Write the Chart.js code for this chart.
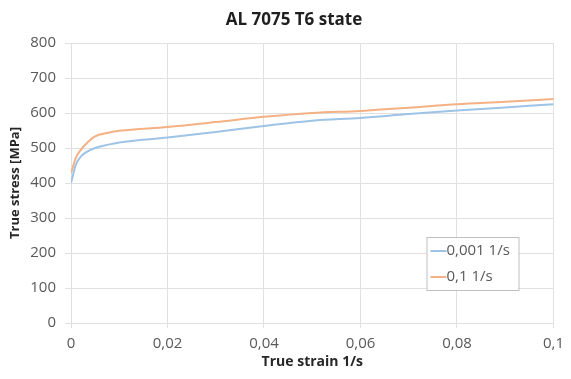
<!DOCTYPE html>
<html>
<head>
<meta charset="utf-8">
<script src="https://cdn.jsdelivr.net/npm/chart.js@4/dist/chart.umd.min.js"></script>
<style>
html,body{margin:0;padding:0;background:#fff;}
#wrap{width:571px;height:379px;position:relative;}
</style>
</head>
<body>
<div id="wrap"><canvas id="c" width="571" height="379"></canvas></div>
<script>
const chartTitle = 'AL 7075 T6 state';
const xAxisTitle = 'True strain 1/s';
const yAxisTitle = 'True stress [MPa]';
const seriesNames = ['0,001 1/s', '0,1 1/s'];
const strain = [0, 0.001, 0.002, 0.003, 0.005, 0.0075, 0.01, 0.02, 0.03, 0.04, 0.05, 0.06, 0.07, 0.08, 0.09, 0.1];
const stressSlow = [400, 452, 475, 487, 500, 509, 516, 530, 546, 563, 578, 586, 597, 607, 616, 625];
const stressFast = [428, 472, 494, 510, 533, 543, 549, 560, 574, 589, 600, 606, 615, 625, 632, 640];
const xTickLabels = ['0', '0,02', '0,04', '0,06', '0,08', '0,1'];
const yTickLabels = ['0', '100', '200', '300', '400', '500', '600', '700', '800'];
const seriesColors = ['#9dc3e6', '#f4b183'];

const toPts = (ys) => strain.map((x, i) => ({x: x, y: ys[i]}));

const tickColor = '#595959';
const gridColor = '#e0e0e0';

const titlePlugin = {
  id: 'customTitle',
  afterDraw(chart) {
    const ctx = chart.ctx;
    ctx.save();
    ctx.font = 'bold 17px "Open Sans"';
    ctx.fillStyle = '#1f1f1f';
    ctx.textAlign = 'center';
    ctx.textBaseline = 'middle';
    ctx.fillText(chartTitle, 294, 20);
    ctx.restore();
  }
};

const legendPlugin = {
  id: 'insideLegend',
  afterDraw(chart) {
    const ctx = chart.ctx;
    const a = chart.chartArea;
    const bx = a.right - 127, by = a.top + 194, bw = 92, bh = 53;
    ctx.save();
    ctx.fillStyle = '#ffffff';
    ctx.fillRect(bx, by, bw, bh);
    ctx.strokeStyle = '#bfbfbf';
    ctx.lineWidth = 1;
    ctx.strokeRect(bx + 0.5, by + 0.5, bw, bh);
    ctx.font = '15px "Open Sans"';
    ctx.textBaseline = 'middle';
    ctx.textAlign = 'left';
    chart.data.datasets.forEach((ds, i) => {
      const y = by + 14 + i * 26;
      ctx.strokeStyle = ds.borderColor;
      ctx.lineWidth = 2;
      ctx.beginPath();
      ctx.moveTo(bx + 4, y);
      ctx.lineTo(bx + 20, y);
      ctx.stroke();
      ctx.fillStyle = tickColor;
      ctx.fillText(ds.label, bx + 20, y);
    });
    ctx.restore();
  }
};

new Chart(document.getElementById('c'), {
  type: 'scatter',
  data: {
    datasets: [
      {label: seriesNames[0], data: toPts(stressSlow), borderColor: seriesColors[0], backgroundColor: seriesColors[0], showLine: true, pointRadius: 0, borderWidth: 2, cubicInterpolationMode: 'monotone'},
      {label: seriesNames[1], data: toPts(stressFast), borderColor: seriesColors[1], backgroundColor: seriesColors[1], showLine: true, pointRadius: 0, borderWidth: 2, cubicInterpolationMode: 'monotone'}
    ]
  },
  options: {
    responsive: false,
    animation: false,
    layout: {padding: {left: 0, right: 13, top: 43, bottom: 0}},
    plugins: {
      legend: {display: false},
      title: {display: false},
      tooltip: {enabled: false}
    },
    scales: {
      x: {
        type: 'linear',
        min: 0, max: 0.1,
        afterFit(s) { s.height = 56; },
        ticks: {
          stepSize: 0.02,
          color: tickColor,
          font: {family: '"Open Sans"', size: 15},
          padding: 7,
          maxRotation: 0,
          callback: (v, i) => xTickLabels[i]
        },
        grid: {color: gridColor, tickLength: 5, drawTicks: true},
        border: {color: gridColor},
        title: {display: true, text: xAxisTitle, color: '#262626', font: {family: '"Open Sans"', size: 14, weight: 'bold'}, padding: {top: 0, bottom: 9}}
      },
      y: {
        min: 0, max: 800,
        afterFit(s) { s.width = 71; },
        ticks: {
          stepSize: 100,
          color: tickColor,
          font: {family: '"Open Sans"', size: 15},
          padding: 9,
          callback: (v, i) => yTickLabels[i]
        },
        grid: {color: gridColor, tickLength: 6, drawTicks: true},
        border: {color: gridColor},
        title: {display: true, text: yAxisTitle, color: '#262626', font: {family: '"Open Sans"', size: 13, weight: 'bold'}, padding: {top: 7, bottom: 0}}
      }
    }
  },
  plugins: [titlePlugin, legendPlugin]
});
</script>
</body>
</html>
